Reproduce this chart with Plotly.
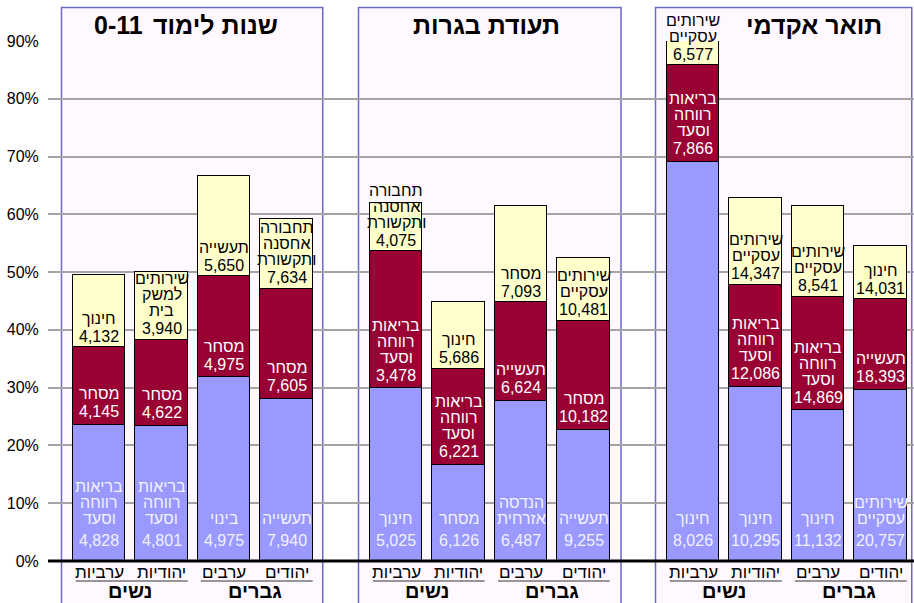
import plotly.graph_objects as go

# panels (number prefix drawn separately so it stays on the left), bars inside a panel, sexes
groups = ["שנות לימוד", "תעודת בגרות", "תואר אקדמי"]
group_prefix = ["0-11", "", ""]
bar_names = ["ערביות", "יהודיות", "ערבים", "יהודים"]
sexes = ["נשים", "גברים"]

# segment heights in % of employed, order per panel: ערביות, יהודיות, ערבים, יהודים
blue_pct = [23.6, 23.4, 31.8, 28.1, 29.9, 16.7, 27.7, 22.7, 69.1, 30.2, 26.1, 29.6]
red_pct = [13.4, 14.9, 17.5, 19.0, 23.7, 16.6, 17.1, 18.9, 16.7, 17.6, 19.6, 15.7]
yellow_pct = [12.5, 11.7, 17.4, 12.1, 8.3, 11.5, 16.7, 10.8, 4.2, 15.1, 15.8, 9.3]

blue_names = ["בריאות<br>רווחה<br>וסעד", "בריאות<br>רווחה<br>וסעד", "בינוי", "תעשייה",
              "חינוך", "מסחר", "הנדסה<br>אזרחית", "תעשייה",
              "חינוך", "חינוך", "חינוך", "שירותים<br>עסקיים"]
blue_counts = ["4,828", "4,801", "4,975", "7,940", "5,025", "6,126", "6,487", "9,255",
               "8,026", "10,295", "11,132", "20,757"]

red_names = ["מסחר", "מסחר", "מסחר", "מסחר",
             "בריאות<br>רווחה<br>וסעד", "בריאות<br>רווחה<br>וסעד", "תעשייה", "מסחר",
             "בריאות<br>רווחה<br>וסעד", "בריאות<br>רווחה<br>וסעד", "בריאות<br>רווחה<br>וסעד", "תעשייה"]
red_counts = ["4,145", "4,622", "4,975", "7,605", "3,478", "6,221", "6,624", "10,182",
              "7,866", "12,086", "14,869", "18,393"]

yellow_names = ["חינוך", "שירותים<br>למשק<br>בית", "תעשייה", "תחבורה<br>אחסנה<br>ותקשורת",
                "תחבורה<br>אחסנה<br>ותקשורת", "חינוך", "מסחר", "שירותים<br>עסקיים",
                "שירותים<br>עסקיים", "שירותים<br>עסקיים", "שירותים<br>עסקיים", "חינוך"]
yellow_counts = ["4,132", "3,940", "5,650", "7,634", "4,075", "5,686", "7,093", "10,481",
                 "6,577", "14,347", "8,541", "14,031"]

y_ticks = [0, 10, 20, 30, 40, 50, 60, 70, 80, 90]

FONT = "Arial, Liberation Sans, sans-serif"
BLUE, RED, YELLOW = "#9999FF", "#990033", "#FFFFCC"

# layout geometry (x in bar-slot units)
GROUP_STEP = 4.752
BAR_W = 0.84
XMIN, XMAX = -0.816, 13.04
YMAX = 90
PLOT_H = 520


def px_y(p):
    # pixel row -> paper y
    return (561 - p) / PLOT_H


def to_paper_x(u):
    return (u - XMIN) / (XMAX - XMIN)


xpos = [g * GROUP_STEP + i for g in range(len(groups)) for i in range(len(bar_names))]

fig = go.Figure()
for vals, col in [(blue_pct, BLUE), (red_pct, RED), (yellow_pct, YELLOW)]:
    fig.add_trace(go.Bar(x=xpos, y=vals, width=BAR_W, marker=dict(color=col, line=dict(color="black", width=1)),
                         hoverinfo="skip", showlegend=False))

annotations = []
shapes = []


def add_label(x, base, name, count, color, num_off, txt_off):
    annotations.append(dict(x=x, y=base, xref="x", yref="y", text=count, showarrow=False,
                            xanchor="center", yanchor="middle", yshift=num_off,
                            font=dict(family=FONT, size=16, color=color)))
    lines = name.split("<br>")
    for k, line in enumerate(reversed(lines)):
        annotations.append(dict(x=x, y=base, xref="x", yref="y", text=line, showarrow=False,
                                xanchor="center", yanchor="middle", yshift=txt_off + 16 * k,
                                font=dict(family=FONT, size=16, color=color)))


for j, x in enumerate(xpos):
    b0 = 0
    b1 = blue_pct[j]
    b2 = blue_pct[j] + red_pct[j]
    add_label(x, b0, blue_names[j], blue_counts[j], "#F2F2FF", 21, 43)
    add_label(x, b1, red_names[j], red_counts[j], "white", 13, 31)
    add_label(x, b2, yellow_names[j], yellow_counts[j], "black", 11, 29)

title_off = [0.78, 1.45, 1.94]
right_off = [3.58, 3.6, 3.5]
title_font = dict(family=FONT, size=25, color="black")
for g, name in enumerate(groups):
    g0 = g * GROUP_STEP
    shapes.append(dict(type="rect", xref="paper", yref="paper", layer="below",
                       x0=to_paper_x(g0 - 0.6), x1=to_paper_x(g0 + right_off[g]),
                       y0=-0.2, y1=px_y(7.5),
                       fillcolor="#FFF8FF", line=dict(color="#6A6AC8", width=1.5)))
    if group_prefix[g]:
        annotations.append(dict(x=to_paper_x(g0 + title_off[g]), y=px_y(25), xref="paper", yref="paper",
                                text="<b>" + group_prefix[g] + "</b>", showarrow=False,
                                xanchor="right", yanchor="middle", xshift=-3, font=title_font))
        annotations.append(dict(x=to_paper_x(g0 + title_off[g]), y=px_y(25), xref="paper", yref="paper",
                                text="<b>" + name + "</b>", showarrow=False,
                                xanchor="left", yanchor="middle", xshift=3, font=title_font))
    else:
        annotations.append(dict(x=to_paper_x(g0 + title_off[g]), y=px_y(25), xref="paper", yref="paper",
                                text="<b>" + name + "</b>", showarrow=False,
                                xanchor="center", yanchor="middle", font=title_font))
    for i, bn in enumerate(bar_names):
        annotations.append(dict(x=to_paper_x(g0 + i), y=px_y(572), xref="paper", yref="paper",
                                text=bn, showarrow=False, xanchor="center", yanchor="middle",
                                font=dict(family=FONT, size=17, color="black")))
    for s, sx in enumerate(sexes):
        c = g0 + 2 * s + 0.5
        annotations.append(dict(x=to_paper_x(c), y=px_y(591), xref="paper", yref="paper",
                                text="<b>" + sx + "</b>", showarrow=False, xanchor="center", yanchor="middle",
                                font=dict(family=FONT, size=20, color="black")))
        shapes.append(dict(type="line", xref="paper", yref="paper", layer="above",
                           x0=to_paper_x(c - 0.5 - BAR_W / 2 + 0.05), x1=to_paper_x(c + 0.5 + BAR_W / 2),
                           y0=px_y(581), y1=px_y(581), line=dict(color="#333333", width=1)))

# thick base line
shapes.append(dict(type="line", xref="paper", yref="paper", layer="above", x0=0, x1=1, y0=0, y1=0,
                   line=dict(color="black", width=3)))

fig.update_layout(
    width=914, height=603,
    margin=dict(l=48, r=0, t=41, b=42),
    barmode="stack", bargap=0,
    paper_bgcolor="white", plot_bgcolor="white",
    annotations=annotations, shapes=shapes,
    font=dict(family=FONT),
)
fig.update_xaxes(range=[XMIN, XMAX], showgrid=False, showticklabels=False, zeroline=False, showline=False)
fig.update_yaxes(range=[0, YMAX], tickvals=y_ticks, ticktext=[f"{v}%" for v in y_ticks],
                 showgrid=True, gridcolor="#A4A4A4",
                 gridwidth=1.6, zeroline=False, showline=False, ticks="outside", ticklen=5,
                 tickcolor="rgba(0,0,0,0)", tickfont=dict(family=FONT, size=16, color="black"))

fig.write_html("out.html", config={"displayModeBar": False},
               post_script="document.body.style.margin='0';document.body.style.overflow='hidden';")
